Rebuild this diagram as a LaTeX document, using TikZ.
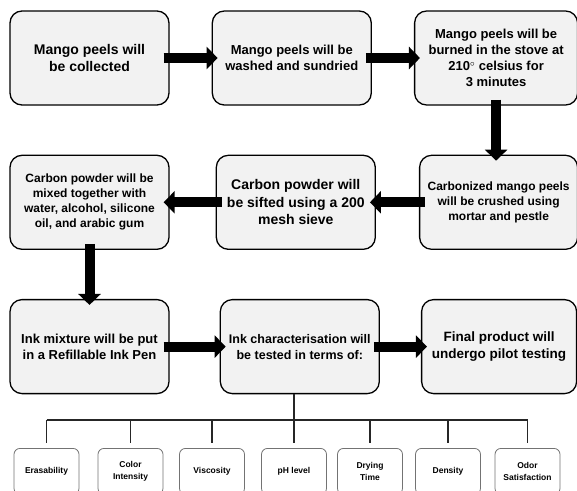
\documentclass[tikz,border=0pt]{standalone}
\usepackage{fontspec}
\setmainfont{Liberation Sans}
\usetikzlibrary{arrows.meta,positioning}
\definecolor{boxfill}{HTML}{F2F2F2}

\begin{document}
\begin{tikzpicture}[x=1pt, y=-1pt, node distance=49pt and 42pt,
  box/.style={draw, line width=1.3pt, rounded corners=12pt, fill=boxfill, align=center, minimum width=159pt, minimum height=94pt, inner sep=2pt, font=\bfseries\fontsize{13}{16}\selectfont},
  prop/.style={draw=black!55, line width=0.8pt, rounded corners=6pt, fill=white, align=center, minimum width=65pt, minimum height=46pt, anchor=north, inner sep=1pt, font=\bfseries\fontsize{8.5}{11.5}\selectfont},
  fat/.style={line width=10pt, -{Triangle[width=22pt,length=11pt]}, shorten <=-6pt, shorten >=-6pt},
  branch/.style={line width=1.8pt, draw=black!85}]
\useasboundingbox (0,0) rectangle (577,490);

% first row
\node[box, font=\bfseries\fontsize{14}{17}\selectfont] (collect) at (89.5,58) {Mango peels will\\be collected};
\node[box, right=of collect] (wash) {Mango peels will be\\washed and sundried};
\node[box, right=of wash, minimum width=163pt] (burn) {Mango peels will be\\burned in the stove at\\210$^{\circ}$ celsius for\\3 minutes};

% second row
\node[box, below=of collect, font=\bfseries\fontsize{12}{15}\selectfont] (mix) {Carbon powder will be\\mixed together with\\water, alcohol, silicone\\oil, and arabic gum};
\node[box, right=46pt of mix, font=\bfseries\fontsize{14}{17.5}\selectfont] (sift) {Carbon powder will\\be sifted using a 200\\mesh sieve};
\node[box, right=43pt of sift, minimum width=158pt, font=\bfseries\fontsize{12}{15}\selectfont] (crush) {Carbonized mango peels\\will be crushed using\\mortar and pestle};

% third row
\node[box, below=of mix] (pen) {Ink mixture will be put\\in a Refillable Ink Pen};
\node[box, right=50pt of pen, font=\bfseries\fontsize{12.5}{16}\selectfont] (test) {Ink characterisation will\\be tested in terms of:};
\node[box, right=41pt of test, minimum width=155pt, font=\bfseries\fontsize{13.5}{17}\selectfont] (final) {Final product will\\undergo pilot testing};

% properties
\foreach \px/\pname/\ptext in {46.5/era/Erasability, 130.5/col/{Color\\Intensity}, 212/vis/Viscosity, 294/ph/pH level, 370/dry/{Drying\\Time}, 448/den/Density, 527.5/odo/{Odor\\Satisfaction}}
  \node[prop] (\pname) at (\px,448) {\ptext};

\coordinate (bus) at ([yshift=-26pt]test.south -| ph.north);
\draw[branch] (test.south -| ph.north) -- (bus);
\draw[branch] (bus -| era.north) -- (bus -| odo.north);
\foreach \pname in {era,col,vis,ph,dry,den,odo}
  \draw[branch] (bus -| \pname.north) -- ([yshift=5pt]\pname.north);

% flow
\draw[fat] (collect) -- (wash);
\draw[fat] (wash) -- (burn);
\draw[fat] (burn.south) -- (burn.south |- crush.north);
\draw[fat] (crush) -- (sift);
\draw[fat] (sift) -- (mix);
\draw[fat] (mix) -- (pen);
\draw[fat] (pen) -- (test);
\draw[fat] (test) -- (final);
\end{tikzpicture}
\end{document}
